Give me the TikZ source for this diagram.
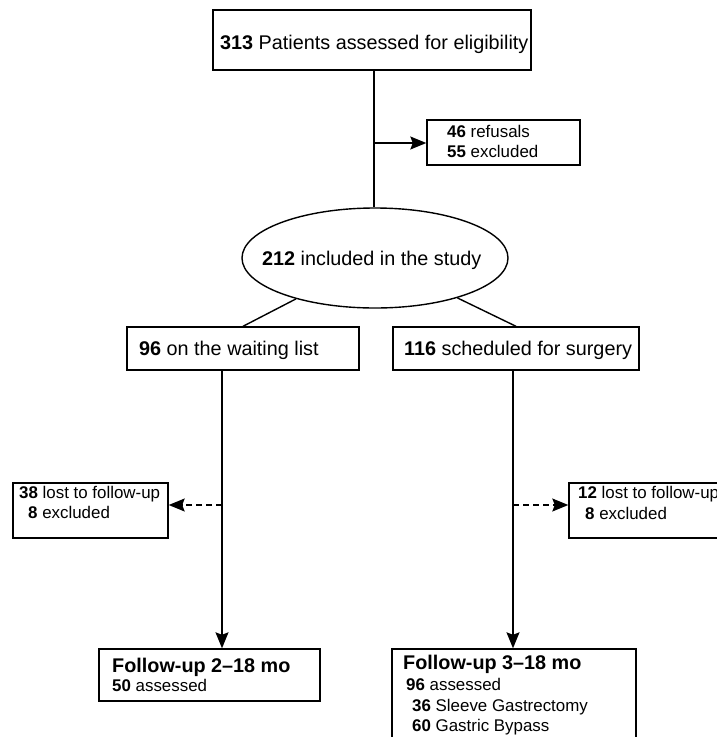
\documentclass[tikz,border=0pt]{standalone}
\usepackage{fontspec}
\setmainfont{Liberation Sans}
\usetikzlibrary{shapes.geometric,arrows.meta}
\begin{document}
\begin{tikzpicture}[x=1pt,y=-1pt,
  box/.style={draw, line width=1.4pt, inner sep=0pt},
  big/.style={inner sep=0pt, anchor=base west, font=\fontsize{19.8}{23}\selectfont},
  small/.style={inner sep=0pt, anchor=base west, font=\fontsize{16.9}{20}\selectfont},
  conn/.style={line width=1.4pt},
  arr/.style={conn, -{Stealth[length=16pt,width=13pt,inset=2.5pt]}},
  darr/.style={arr, dash pattern=on 6pt off 4pt}]
\clip (0,0) rectangle (717,737);
\fill[white] (0,0) rectangle (717,737);
% boxes
\node[box, minimum width=318, minimum height=60] (top) at (372,40) {};
\node[box, minimum width=153, minimum height=45] (ref) at (503.5,142.5) {};
\node[box, ellipse, minimum width=266, minimum height=100] (ell) at (375,258) {};
\node[box, minimum width=232, minimum height=43] (wl) at (243,348.5) {};
\node[box, minimum width=246, minimum height=43] (sg) at (516,348.5) {};
\node[box, minimum width=155, minimum height=55] (lostL) at (90.5,510.5) {};
\node[box, minimum width=171, minimum height=55] (lostR) at (654.5,510.5) {};
\node[box, minimum width=221, minimum height=52] (fuL) at (209.5,675) {};
\node[box, minimum width=244, minimum height=111] (fuR) at (514,704.5) {};
% texts
\node[big] (t1) at (220,49) {\textbf{313} Patients assessed for eligibility};
\node[small] (t2) at (447,137) {\textbf{46} refusals};
\node[small] (t3) at (447,157) {\textbf{55} excluded};
\node[big] (t4) at (262,265) {\textbf{212} included in the study};
\node[big] (t5) at (139,355) {\textbf{96} on the waiting list};
\node[big] (t6) at (404,355) {\textbf{116} scheduled for surgery};
\node[small] (t7) at (19,498) {\textbf{38} lost to follow-up};
\node[small] (t8) at (28,518) {\textbf{8} excluded};
\node[small] (t9) at (578,498) {\textbf{12} lost to follow-up};
\node[small] (t10) at (585,519) {\textbf{8} excluded};
\node[big, font=\fontsize{19.8}{23}\selectfont\bfseries] (t11) at (112,672) {Follow-up 2–18 mo};
\node[small] (t12) at (112,691) {\textbf{50} assessed};
\node[big, font=\fontsize{19.8}{23}\selectfont\bfseries] (t13) at (403,669) {Follow-up 3–18 mo};
\node[small] (t14) at (406,690) {\textbf{96} assessed};
\node[small] (t15) at (412,711) {\textbf{36} Sleeve Gastrectomy};
\node[small] (t16) at (412,731) {\textbf{60} Gastric Bypass};
% connectors
\coordinate (trunk) at (374,70);
\coordinate (split) at (374,143);
\coordinate (lv) at (222,370);
\coordinate (lvd) at (222,505);
\coordinate (rv) at (513,370);
\coordinate (rvd) at (513,505);
\draw[conn] (trunk) -- (trunk |- ell.north);
\draw[arr] (split) -- (split -| ref.west);
\draw[conn] (ell) -- (wl.north);
\draw[conn] (ell) -- (sg.north);
\draw[arr] (lv) -- (lv |- fuL.north);
\draw[arr] (rv) -- (rv |- fuR.north);
\draw[darr] (lvd) -- (lvd -| lostL.east);
\draw[darr] (rvd) -- (rvd -| lostR.west);
\end{tikzpicture}
\end{document}
